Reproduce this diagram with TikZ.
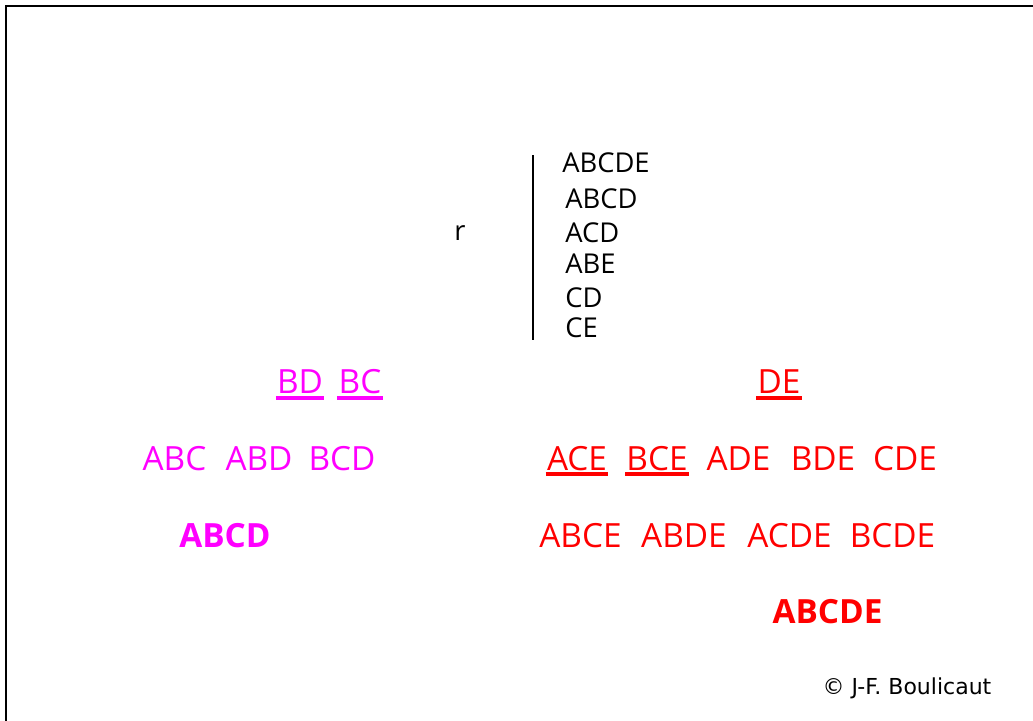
\documentclass[tikz,border=0pt]{standalone}
\usepackage{fontspec}
\setmainfont{Open Sans}
\newfontfamily\cpfont{DejaVu Sans}
\usetikzlibrary{calc}
\definecolor{mag}{HTML}{FF00FF}
\definecolor{rd}{HTML}{FF0000}
\tikzset{
  blk/.style={inner sep=0pt, anchor=base west, font=\fontsize{20.5}{24}\selectfont},
  mg/.style={inner sep=0pt, anchor=base, text=mag, font=\fontsize{25}{28}\selectfont},
  rdt/.style={inner sep=0pt, anchor=base, text=rd, font=\fontsize{25}{28}\selectfont},
  mgb/.style={mg, font=\fontsize{25}{28}\selectfont\bfseries},
  rdb/.style={rdt, font=\fontsize{25}{28}\selectfont\bfseries},
  ulm/.style={draw=mag, line width=2.3pt},
  ulr/.style={draw=rd, line width=2.3pt},
  frame/.style={line width=2.2pt}
}
\begin{document}
\begin{tikzpicture}[x=0.75pt,y=-0.75pt]
\useasboundingbox (0,0) rectangle (1033,721);
% frame
\coordinate (fbl) at (6,721);
\coordinate (ftl) at (6,6);
\coordinate (ftr) at (1033,6);
\draw[frame] (fbl) -- (ftl) -- (ftr);
% relation
\coordinate (vt) at (533,155);
\coordinate (vb) at (533,340);
\draw[line width=1.6pt] (vt) -- (vb);
\node[blk, anchor=base] (r) at (460,240) {r};
\node[blk] (t1) at (562,172) {ABCDE};
\node[blk] (t2) at (565,208) {ABCD};
\node[blk] (t3) at (565,242) {ACD};
\node[blk] (t4) at (565,273) {ABE};
\node[blk] (t5) at (565,307) {CD};
\node[blk] (t6) at (565,337) {CE};
% magenta
\node[mg] (bd) at (300,393) {BD};
\node[mg] (bc) at (360,393) {BC};
\node[mg] (abc) at (174.5,470) {ABC};
\node[mg] (abd) at (259,470) {ABD};
\node[mg] (bcd) at (342,470) {BCD};
\node[mgb] (abcd) at (225,547) {ABCD};
\draw[ulm] ($(bd.base west)+(-1,5)$) -- ($(bd.base east)+(1,5)$);
\draw[ulm] ($(bc.base west)+(-1,5)$) -- ($(bc.base east)+(1,5)$);
% red
\node[rdt] (de) at (779,393) {DE};
\node[rdt] (ace) at (577,470) {ACE};
\node[rdt] (bce) at (657,470) {BCE};
\node[rdt] (ade) at (738.5,470) {ADE};
\node[rdt] (bde) at (823,470) {BDE};
\node[rdt] (cde) at (905,470) {CDE};
\node[rdt] (abce) at (580.5,547) {ABCE};
\node[rdt] (abde) at (684,547) {ABDE};
\node[rdt] (acde) at (789.5,547) {ACDE};
\node[rdt] (bcde) at (892.5,547) {BCDE};
\node[rdb] (abcde) at (827.5,623) {ABCDE};
\draw[ulr] ($(de.base west)+(-1,5)$) -- ($(de.base east)+(1,5)$);
\draw[ulr] ($(ace.base west)+(-1,4)$) -- ($(ace.base east)+(1,4)$);
\draw[ulr] ($(bce.base west)+(-1,4)$) -- ($(bce.base east)+(1,4)$);
% copyright
\node[inner sep=0pt, anchor=base, font=\cpfont\fontsize{16.5}{18}\selectfont] (cp) at (907,694) {© J-F. Boulicaut};
\end{tikzpicture}
\end{document}
